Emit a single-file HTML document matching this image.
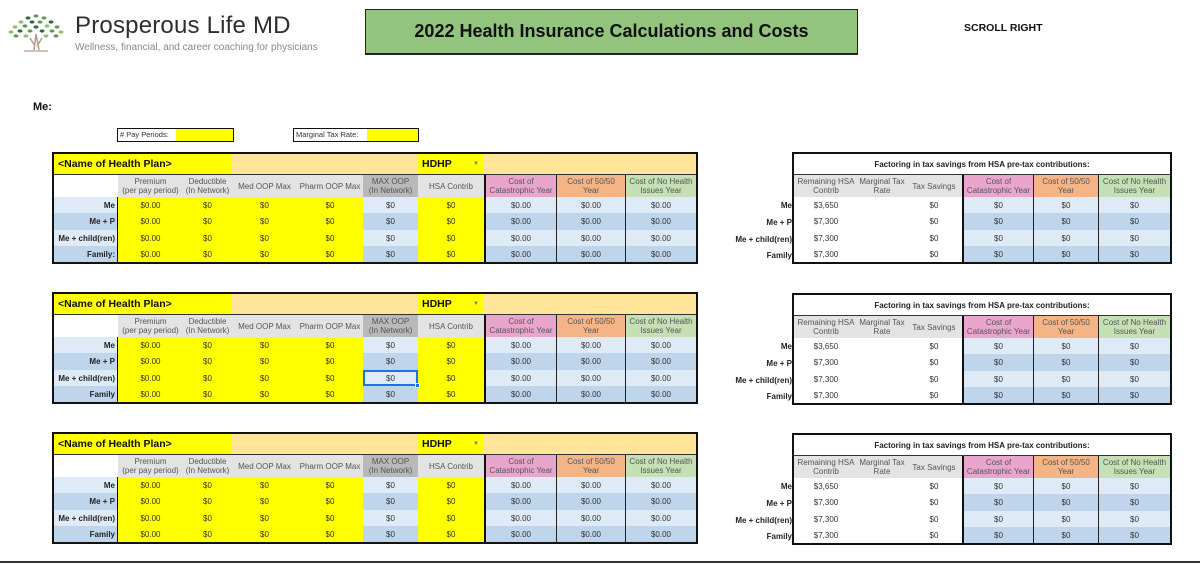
<!DOCTYPE html>
<html><head><meta charset="utf-8"><style>
*{margin:0;padding:0;box-sizing:border-box}
body{width:1200px;height:564px;background:#fff;position:relative;overflow:hidden;font-family:"Liberation Sans",Arial,sans-serif;color:#222}
.a{position:absolute}
.L,.R{position:absolute;display:grid;border:2px solid #111;}
.L{left:52px;width:646px;height:112px;grid-template-columns:64px 65px 49px 65px 66px 55px 66px 72px 69px 71px;grid-template-rows:21px 22px 16px 17px 16px 16px}
.R{left:792px;width:380px;height:112px;grid-template-columns:64px 48px 56px 71px 65px 72px;grid-template-rows:21px 22px 16px 17px 16px 16px}
.c{display:flex;align-items:center;justify-content:center;font-size:8px;text-align:center;line-height:9px;color:#333;white-space:nowrap;overflow:hidden}
.h{color:#555}
.y{background:#ffff00}.o{background:#ffe599}.g{background:#e3e3e3}.gd{background:#b9b9b9}
.p{background:#e9a5cc}.or{background:#f5b485}.gr{background:#c5e0b4}
.b1{background:#deeaf6}.b2{background:#bed5ec}.w{background:#fff}
.t{border-bottom:1px solid #333}
.lb{justify-content:flex-end;padding-right:2px;font-weight:bold;color:#222;border-right:1.5px solid #111}
.k{border-left:2px solid #111}.k1{border-left:1.5px solid #222}
.nm{justify-content:flex-start;padding-left:4px;font-weight:bold;font-size:10.5px;color:#111}
.rl{position:absolute;width:80px;text-align:right;font-size:8px;font-weight:bold;color:#222}
</style></head><body>

<svg class="a" style="left:6px;top:12px" width="60" height="42" viewBox="0 0 60 42">
<g fill="#5e9a5a">
<ellipse cx="30" cy="4" rx="2.5" ry="1.6"/><ellipse cx="22" cy="6" rx="2.5" ry="1.6" fill="#2e6b3e"/><ellipse cx="38" cy="6" rx="2.5" ry="1.6"/>
<ellipse cx="15" cy="10" rx="2.5" ry="1.6" fill="#8fbf6a"/><ellipse cx="26" cy="10" rx="2.5" ry="1.6" fill="#2e6b3e"/><ellipse cx="34" cy="10" rx="2.5" ry="1.6"/><ellipse cx="45" cy="10" rx="2.5" ry="1.6" fill="#2e6b3e"/>
<ellipse cx="9" cy="15" rx="2.5" ry="1.6" fill="#8fbf6a"/><ellipse cx="19" cy="14" rx="2.5" ry="1.6"/><ellipse cx="30" cy="15" rx="2.5" ry="1.6" fill="#2e6b3e"/><ellipse cx="41" cy="14" rx="2.5" ry="1.6" fill="#8fbf6a"/><ellipse cx="51" cy="15" rx="2.5" ry="1.6"/>
<ellipse cx="5" cy="20" rx="2.5" ry="1.6" fill="#8fbf6a"/><ellipse cx="14" cy="19" rx="2.5" ry="1.6" fill="#2e6b3e"/><ellipse cx="24" cy="19" rx="2.5" ry="1.6"/><ellipse cx="36" cy="19" rx="2.5" ry="1.6" fill="#2e6b3e"/><ellipse cx="46" cy="19" rx="2.5" ry="1.6"/><ellipse cx="55" cy="20" rx="2.5" ry="1.6" fill="#8fbf6a"/>
<ellipse cx="10" cy="24" rx="2.5" ry="1.6"/><ellipse cx="20" cy="24" rx="2.5" ry="1.6" fill="#8fbf6a"/><ellipse cx="40" cy="24" rx="2.5" ry="1.6" fill="#8fbf6a"/><ellipse cx="50" cy="24" rx="2.5" ry="1.6"/>
</g>
<path d="M30 22 L28 38 M30 22 L33 38 M24 26 L29 34 M36 26 L31 34" stroke="#b89a90" stroke-width="1.5" fill="none"/>
<path d="M18 39 L42 39" stroke="#c8aaa0" stroke-width="1.5"/>
</svg>
<div class="a" style="left:75px;top:12px;font-size:24px;color:#2e2e2e;letter-spacing:0.2px">Prosperous Life MD</div>
<div class="a" style="left:75px;top:42px;font-size:10px;color:#888">Wellness, financial, and career coaching for physicians</div>

<div class="a" style="left:365px;top:9px;width:493px;height:46px;background:#93c47d;border:1.5px solid #222;border-bottom-width:2px;display:flex;align-items:center;justify-content:center;font-size:18px;font-weight:bold;color:#111">2022 Health Insurance Calculations and Costs</div>
<div class="a" style="left:964px;top:22px;font-size:10.5px;font-weight:bold;color:#111">SCROLL RIGHT</div>

<div class="a" style="left:33px;top:101px;font-size:11px;font-weight:bold;color:#111">Me:</div>
<div class="a" style="left:117px;top:128px;width:117px;height:14px;border:1.5px solid #111;background:linear-gradient(90deg,#fff 58px,#ffff00 58px);font-size:7.5px;line-height:11px;padding-left:2px;color:#333"># Pay Periods:</div>
<div class="a" style="left:293px;top:128px;width:126px;height:14px;border:1.5px solid #111;background:linear-gradient(90deg,#fff 73px,#ffff00 73px);font-size:7.5px;line-height:11px;padding-left:2px;color:#333">Marginal Tax Rate:</div>

<!-- TABLE 1 -->
<div class="L" style="top:152px">
<div class="c nm y t" style="grid-column:1/4">&lt;Name of Health Plan&gt;</div><div class="c o t" style="grid-column:4/7"></div><div class="c y t nm" style="justify-content:space-between;padding-right:5px">HDHP<span style="font-size:6px;color:#777">▼</span></div><div class="c o t" style="grid-column:8/11"></div>
<div class="c w"></div><div class="c g h">Premium<br>(per pay period)</div><div class="c g h">Deductible<br>(In Network)</div><div class="c g h">Med OOP Max</div><div class="c g h">Pharm OOP Max</div><div class="c gd h">MAX OOP<br>(In Network)</div><div class="c g h">HSA Contrib</div><div class="c p h k">Cost of<br>Catastrophic Year</div><div class="c or h k1">Cost of 50/50<br>Year</div><div class="c gr h k1">Cost of No Health<br>Issues Year</div>
<div class="c b1 lb">Me</div><div class="c y">$0.00</div><div class="c y">$0</div><div class="c y">$0</div><div class="c y">$0</div><div class="c b1">$0</div><div class="c y">$0</div><div class="c b1 k">$0.00</div><div class="c b1 k1">$0.00</div><div class="c b1 k1">$0.00</div>
<div class="c b2 lb">Me + P</div><div class="c y">$0.00</div><div class="c y">$0</div><div class="c y">$0</div><div class="c y">$0</div><div class="c b2">$0</div><div class="c y">$0</div><div class="c b2 k">$0.00</div><div class="c b2 k1">$0.00</div><div class="c b2 k1">$0.00</div>
<div class="c b1 lb">Me + child(ren)</div><div class="c y">$0.00</div><div class="c y">$0</div><div class="c y">$0</div><div class="c y">$0</div><div class="c b1">$0</div><div class="c y">$0</div><div class="c b1 k">$0.00</div><div class="c b1 k1">$0.00</div><div class="c b1 k1">$0.00</div>
<div class="c b2 lb">Family:</div><div class="c y">$0.00</div><div class="c y">$0</div><div class="c y">$0</div><div class="c y">$0</div><div class="c b2">$0</div><div class="c y">$0</div><div class="c b2 k">$0.00</div><div class="c b2 k1">$0.00</div><div class="c b2 k1">$0.00</div>
</div>

<!-- TABLE 2 -->
<div class="L" style="top:292px">
<div class="c nm y t" style="grid-column:1/4">&lt;Name of Health Plan&gt;</div><div class="c o t" style="grid-column:4/7"></div><div class="c y t nm" style="justify-content:space-between;padding-right:5px">HDHP<span style="font-size:6px;color:#777">▼</span></div><div class="c o t" style="grid-column:8/11"></div>
<div class="c w"></div><div class="c g h">Premium<br>(per pay period)</div><div class="c g h">Deductible<br>(In Network)</div><div class="c g h">Med OOP Max</div><div class="c g h">Pharm OOP Max</div><div class="c gd h">MAX OOP<br>(In Network)</div><div class="c g h">HSA Contrib</div><div class="c p h k">Cost of<br>Catastrophic Year</div><div class="c or h k1">Cost of 50/50<br>Year</div><div class="c gr h k1">Cost of No Health<br>Issues Year</div>
<div class="c b1 lb">Me</div><div class="c y">$0.00</div><div class="c y">$0</div><div class="c y">$0</div><div class="c y">$0</div><div class="c b1">$0</div><div class="c y">$0</div><div class="c b1 k">$0.00</div><div class="c b1 k1">$0.00</div><div class="c b1 k1">$0.00</div>
<div class="c b2 lb">Me + P</div><div class="c y">$0.00</div><div class="c y">$0</div><div class="c y">$0</div><div class="c y">$0</div><div class="c b2">$0</div><div class="c y">$0</div><div class="c b2 k">$0.00</div><div class="c b2 k1">$0.00</div><div class="c b2 k1">$0.00</div>
<div class="c b1 lb">Me + child(ren)</div><div class="c y">$0.00</div><div class="c y">$0</div><div class="c y">$0</div><div class="c y">$0</div><div class="c b1" style="outline:2px solid #1a73e8;outline-offset:-2px">$0</div><div class="c y">$0</div><div class="c b1 k">$0.00</div><div class="c b1 k1">$0.00</div><div class="c b1 k1">$0.00</div>
<div class="c b2 lb">Family</div><div class="c y">$0.00</div><div class="c y">$0</div><div class="c y">$0</div><div class="c y">$0</div><div class="c b2">$0</div><div class="c y">$0</div><div class="c b2 k">$0.00</div><div class="c b2 k1">$0.00</div><div class="c b2 k1">$0.00</div>
</div>
<div class="a" style="left:415px;top:383px;width:5px;height:5px;background:#1a73e8;border:1px solid #fff"></div>

<!-- TABLE 3 -->
<div class="L" style="top:432px">
<div class="c nm y t" style="grid-column:1/4">&lt;Name of Health Plan&gt;</div><div class="c o t" style="grid-column:4/7"></div><div class="c y t nm" style="justify-content:space-between;padding-right:5px">HDHP<span style="font-size:6px;color:#777">▼</span></div><div class="c o t" style="grid-column:8/11"></div>
<div class="c w"></div><div class="c g h">Premium<br>(per pay period)</div><div class="c g h">Deductible<br>(In Network)</div><div class="c g h">Med OOP Max</div><div class="c g h">Pharm OOP Max</div><div class="c gd h">MAX OOP<br>(In Network)</div><div class="c g h">HSA Contrib</div><div class="c p h k">Cost of<br>Catastrophic Year</div><div class="c or h k1">Cost of 50/50<br>Year</div><div class="c gr h k1">Cost of No Health<br>Issues Year</div>
<div class="c b1 lb">Me</div><div class="c y">$0.00</div><div class="c y">$0</div><div class="c y">$0</div><div class="c y">$0</div><div class="c b1">$0</div><div class="c y">$0</div><div class="c b1 k">$0.00</div><div class="c b1 k1">$0.00</div><div class="c b1 k1">$0.00</div>
<div class="c b2 lb">Me + P</div><div class="c y">$0.00</div><div class="c y">$0</div><div class="c y">$0</div><div class="c y">$0</div><div class="c b2">$0</div><div class="c y">$0</div><div class="c b2 k">$0.00</div><div class="c b2 k1">$0.00</div><div class="c b2 k1">$0.00</div>
<div class="c b1 lb">Me + child(ren)</div><div class="c y">$0.00</div><div class="c y">$0</div><div class="c y">$0</div><div class="c y">$0</div><div class="c b1">$0</div><div class="c y">$0</div><div class="c b1 k">$0.00</div><div class="c b1 k1">$0.00</div><div class="c b1 k1">$0.00</div>
<div class="c b2 lb">Family</div><div class="c y">$0.00</div><div class="c y">$0</div><div class="c y">$0</div><div class="c y">$0</div><div class="c b2">$0</div><div class="c y">$0</div><div class="c b2 k">$0.00</div><div class="c b2 k1">$0.00</div><div class="c b2 k1">$0.00</div>
</div>

<!-- RIGHT TABLES -->
<div class="R" style="top:152px">
<div class="c w t" style="grid-column:1/7;font-weight:bold;color:#222">Factoring in tax savings from HSA pre-tax contributions:</div>
<div class="c g h">Remaining HSA<br>Contrib</div><div class="c g h">Marginal Tax<br>Rate</div><div class="c g h">Tax Savings</div><div class="c p h k">Cost of<br>Catastrophic Year</div><div class="c or h k1">Cost of 50/50<br>Year</div><div class="c gr h k1">Cost of No Health<br>Issues Year</div>
<div class="c w">$3,650</div><div class="c w"></div><div class="c w">$0</div><div class="c b1 k">$0</div><div class="c b1 k1">$0</div><div class="c b1 k1">$0</div>
<div class="c w">$7,300</div><div class="c w"></div><div class="c w">$0</div><div class="c b2 k">$0</div><div class="c b2 k1">$0</div><div class="c b2 k1">$0</div>
<div class="c w">$7,300</div><div class="c w"></div><div class="c w">$0</div><div class="c b1 k">$0</div><div class="c b1 k1">$0</div><div class="c b1 k1">$0</div>
<div class="c w">$7,300</div><div class="c w"></div><div class="c w">$0</div><div class="c b2 k">$0</div><div class="c b2 k1">$0</div><div class="c b2 k1">$0</div>
</div>
<div class="R" style="top:293px">
<div class="c w t" style="grid-column:1/7;font-weight:bold;color:#222">Factoring in tax savings from HSA pre-tax contributions:</div>
<div class="c g h">Remaining HSA<br>Contrib</div><div class="c g h">Marginal Tax<br>Rate</div><div class="c g h">Tax Savings</div><div class="c p h k">Cost of<br>Catastrophic Year</div><div class="c or h k1">Cost of 50/50<br>Year</div><div class="c gr h k1">Cost of No Health<br>Issues Year</div>
<div class="c w">$3,650</div><div class="c w"></div><div class="c w">$0</div><div class="c b1 k">$0</div><div class="c b1 k1">$0</div><div class="c b1 k1">$0</div>
<div class="c w">$7,300</div><div class="c w"></div><div class="c w">$0</div><div class="c b2 k">$0</div><div class="c b2 k1">$0</div><div class="c b2 k1">$0</div>
<div class="c w">$7,300</div><div class="c w"></div><div class="c w">$0</div><div class="c b1 k">$0</div><div class="c b1 k1">$0</div><div class="c b1 k1">$0</div>
<div class="c w">$7,300</div><div class="c w"></div><div class="c w">$0</div><div class="c b2 k">$0</div><div class="c b2 k1">$0</div><div class="c b2 k1">$0</div>
</div>
<div class="R" style="top:433px">
<div class="c w t" style="grid-column:1/7;font-weight:bold;color:#222">Factoring in tax savings from HSA pre-tax contributions:</div>
<div class="c g h">Remaining HSA<br>Contrib</div><div class="c g h">Marginal Tax<br>Rate</div><div class="c g h">Tax Savings</div><div class="c p h k">Cost of<br>Catastrophic Year</div><div class="c or h k1">Cost of 50/50<br>Year</div><div class="c gr h k1">Cost of No Health<br>Issues Year</div>
<div class="c w">$3,650</div><div class="c w"></div><div class="c w">$0</div><div class="c b1 k">$0</div><div class="c b1 k1">$0</div><div class="c b1 k1">$0</div>
<div class="c w">$7,300</div><div class="c w"></div><div class="c w">$0</div><div class="c b2 k">$0</div><div class="c b2 k1">$0</div><div class="c b2 k1">$0</div>
<div class="c w">$7,300</div><div class="c w"></div><div class="c w">$0</div><div class="c b1 k">$0</div><div class="c b1 k1">$0</div><div class="c b1 k1">$0</div>
<div class="c w">$7,300</div><div class="c w"></div><div class="c w">$0</div><div class="c b2 k">$0</div><div class="c b2 k1">$0</div><div class="c b2 k1">$0</div>
</div>

<div class="rl" style="left:712px;top:201px">Me</div><div class="rl" style="left:712px;top:218px">Me + P</div><div class="rl" style="left:712px;top:235px">Me + child(ren)</div><div class="rl" style="left:712px;top:251px">Family</div>
<div class="rl" style="left:712px;top:342px">Me</div><div class="rl" style="left:712px;top:359px">Me + P</div><div class="rl" style="left:712px;top:376px">Me + child(ren)</div><div class="rl" style="left:712px;top:392px">Family</div>
<div class="rl" style="left:712px;top:482px">Me</div><div class="rl" style="left:712px;top:499px">Me + P</div><div class="rl" style="left:712px;top:516px">Me + child(ren)</div><div class="rl" style="left:712px;top:532px">Family</div>

<div class="a" style="left:0;top:561px;width:1200px;height:1.5px;background:#333"></div>
</body></html>
